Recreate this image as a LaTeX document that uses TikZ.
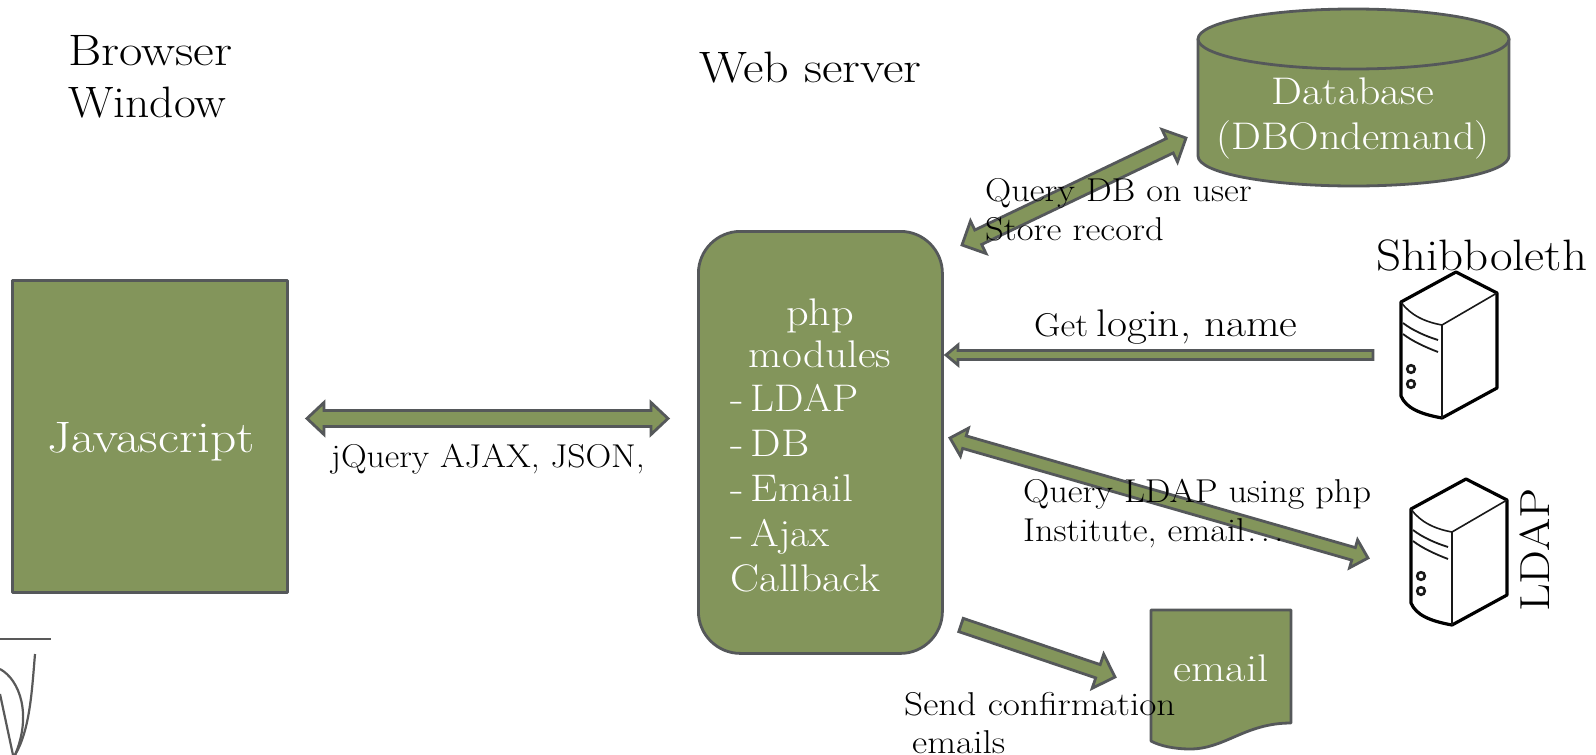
\documentclass[tikz,border=0pt]{standalone}
\usepackage{graphicx}
\usetikzlibrary{calc,shapes.geometric}
\definecolor{olivefill}{HTML}{83955B}
\definecolor{edgegray}{HTML}{55585A}
\tikzset{
  x=1pt,y=-1pt,
  greenshape/.style={draw=edgegray,fill=olivefill,line width=2.8pt,line join=round},
  blockarrow/.style={draw=edgegray,fill=olivefill,line width=2.8pt,line join=miter},
  whitetext/.style={text=white,inner sep=0pt},
  blacktext/.style={text=black,inner sep=0pt},
  srv/.style={draw=black,line width=3.2pt,line join=round},
  srvthin/.style={draw=black!90,line width=1.6pt},
  logoline/.style={draw=black!65,line width=2.2pt}
}
\newcommand{\fsz}[1]{\fontsize{#1}{#1}\selectfont}
\newcommand{\wider}[2]{\scalebox{#1}[1]{#2}}
\newcommand{\dashitem}[2]{\wider{1.15}{-}\hspace{7.4pt}\wider{#1}{#2}}
\newcommand{\singlearrow}[5]{%
 \draw[blockarrow] let \p1=(#1),\p2=(#2),\n1={atan2(\y2-\y1,\x2-\x1)},\n2={veclen(\x2-\x1,\y2-\y1)} in
  [shift={(\p1)},rotate=\n1]
  (0,-#3) -- (\n2-#5,-#3) -- (\n2-#5,-#4) -- (\n2,0) -- (\n2-#5,#4) -- (\n2-#5,#3) -- (0,#3) -- cycle;}
\newcommand{\doublearrow}[5]{%
 \draw[blockarrow] let \p1=(#1),\p2=(#2),\n1={atan2(\y2-\y1,\x2-\x1)},\n2={veclen(\x2-\x1,\y2-\y1)} in
  [shift={(\p1)},rotate=\n1]
  (0,0) -- (#5,-#4) -- (#5,-#3) -- (\n2-#5,-#3) -- (\n2-#5,-#4) -- (\n2,0) -- (\n2-#5,#4) -- (\n2-#5,#3) -- (#5,#3) -- (#5,#4) -- cycle;}
\newcommand{\serverdraw}{%
  \draw[srv] (1456,272) -- (1497,293) -- (1497,388) -- (1442,418)
     .. controls (1420,414) and (1406,408) .. (1401,396) -- (1401,302) -- cycle;
  \draw[srvthin] (1497,293) -- (1442,325) -- (1442,418);
  \draw[srvthin] (1401,302) .. controls (1410,315) and (1425,322) .. (1442,325);
  \draw[srvthin,line width=1.8pt] (1403,323) .. controls (1412,330) and (1425,336) .. (1438,340);
  \draw[srvthin,line width=1.8pt] (1403,334) .. controls (1412,341) and (1425,347) .. (1438,352);
  \draw[srvthin,line width=2.6pt] (1411,369) circle[radius=3.8];
  \draw[srvthin,line width=2.6pt] (1411,384) circle[radius=3.8];
}
\begin{document}
\begin{tikzpicture}
\useasboundingbox (0,0) rectangle (1596,755);
\fill[white] (0,0) rectangle (1596,755);

% logo
\draw[logoline] (0,639) -- (51,639);
\draw[logoline] (35,654) .. controls (32,690) and (30,730) .. (15,755);
\draw[logoline] (0,669) .. controls (20,680) and (32,715) .. (15,755);
\draw[logoline] (0,694) -- (13,755);

% shapes
\node[greenshape,minimum width=275pt,minimum height=312pt,inner sep=0pt,anchor=north west] (js) at (11,279) {};
\node[whitetext,font=\fsz{44},anchor=base] (jstext) at (151,452) {\wider{1.17}{Javascript}};

\node[greenshape,rounded corners=42pt,minimum width=244pt,minimum height=422pt,inner sep=0pt,anchor=north west] (php) at (697,230) {};

% database
\draw[greenshape] (1198,39) -- (1198,156) .. controls (1198,173) and (1268,186) .. (1353.5,186) .. controls (1439,186) and (1509,173) .. (1509,156) -- (1509,39) -- cycle;
\node[greenshape,ellipse,minimum width=311pt,minimum height=60pt,inner sep=0pt] (dbtop) at (1353.5,39) {};
\coordinate (dbport) at (1186,138);
\node[whitetext,font=\fsz{38.5},anchor=base] (db1) at (1353,104) {\wider{1.135}{Database}};
\node[whitetext,font=\fsz{38.5},anchor=base] (db2) at (1353,149) {\wider{1.096}{(DBOndemand)}};

% email doc
\draw[greenshape] (1151,610) -- (1291,610) -- (1291,723)
  .. controls (1245,723) and (1225,749) .. (1190,749)
  .. controls (1175,749) and (1160,746) .. (1151,741) -- cycle;
\coordinate (emailport) at (1115,677);
\node[whitetext,font=\fsz{38.5},anchor=base] (emailt) at (1221,681) {\wider{1.15}{email}};

% php text
\node[whitetext,font=\fsz{38.5},anchor=base] (p1) at (820,325) {\wider{1.15}{php}};
\node[whitetext,font=\fsz{38.5},anchor=base] (p2) at (820,367) {\wider{1.12}{modules}};
\node[whitetext,font=\fsz{38.5},anchor=base west] (p3) at (730,411) {\dashitem{1.08}{LDAP}};
\node[whitetext,font=\fsz{38.5},anchor=base west] (p4) at (730,456) {\dashitem{1.12}{DB}};
\node[whitetext,font=\fsz{38.5},anchor=base west] (p5) at (730,501) {\dashitem{1.13}{Email}};
\node[whitetext,font=\fsz{38.5},anchor=base west] (p6) at (730,546) {\dashitem{1.07}{Ajax}};
\node[whitetext,font=\fsz{38.5},anchor=base west] (p7) at (730,591) {\wider{1.125}{Callback}};

% servers
\serverdraw
\begin{scope}[shift={(10,207)}]
\serverdraw
\end{scope}
\coordinate (shibport) at (1373,355);
\coordinate (ldapport) at (1368,558);
\coordinate (phpa) at (668,418.5);
\coordinate (jsa) at (307,418.5);
\coordinate (phpb) at (946,355);
\coordinate (phpc) at (950,438);
\coordinate (phpd) at (962,245);
\coordinate (phpe) at (961,625);

% arrows
\doublearrow{jsa}{phpa}{8}{16}{17}
\singlearrow{shibport}{phpb}{4.5}{10}{12}
\doublearrow{phpd}{dbport}{8}{18}{18}
\doublearrow{phpc}{ldapport}{6.5}{14.5}{15}
\singlearrow{phpe}{emailport}{7}{18}{18}

% black labels
\node[blacktext,font=\fsz{44},anchor=base west] (bw1) at (68,65) {\wider{1.155}{Browser}};
\node[blacktext,font=\fsz{44},anchor=base west] (bw2) at (68,117) {\wider{1.08}{Window}};
\node[blacktext,font=\fsz{44},anchor=base west] (ws) at (699,82) {\wider{1.14}{Web server}};
\node[blacktext,font=\fsz{33},anchor=base west] (q1) at (985,201) {\wider{1.1}{Query DB on user}};
\node[blacktext,font=\fsz{33},anchor=base west] (q2) at (985,240) {\wider{1.11}{Store record}};
\node[blacktext,font=\fsz{44},anchor=base west] (shib) at (1376,270) {\wider{1.115}{Shibboleth}};
\node[blacktext,font=\fsz{33},anchor=base west] (g1) at (1034,336) {\wider{1.1}{Get}};
\node[blacktext,font=\fsz{38.5},anchor=base west] (g2) at (1096,336) {\wider{1.13}{login, name}};
\node[blacktext,font=\fsz{33},anchor=base] (jq) at (488,467) {\wider{1.08}{jQuery AJAX, JSON,}};
\node[blacktext,font=\fsz{33},anchor=base west] (l1) at (1023,502) {\wider{1.1}{Query LDAP using php}};
\node[blacktext,font=\fsz{33},anchor=base west] (l2) at (1023,541) {\wider{1.1}{Institute, email\hspace{2pt}.\hspace{4pt}.\hspace{4pt}.}};
\node[blacktext,font=\fsz{42},anchor=base,rotate=90] (ldapt) at (1549,550) {\wider{1.14}{LDAP}};
\node[blacktext,font=\fsz{33},anchor=base west] (s1) at (904,715) {\wider{1.13}{Send confirmation}};
\node[blacktext,font=\fsz{33},anchor=base west] (s2) at (912,753) {\wider{1.13}{emails}};
\end{tikzpicture}
\end{document}
